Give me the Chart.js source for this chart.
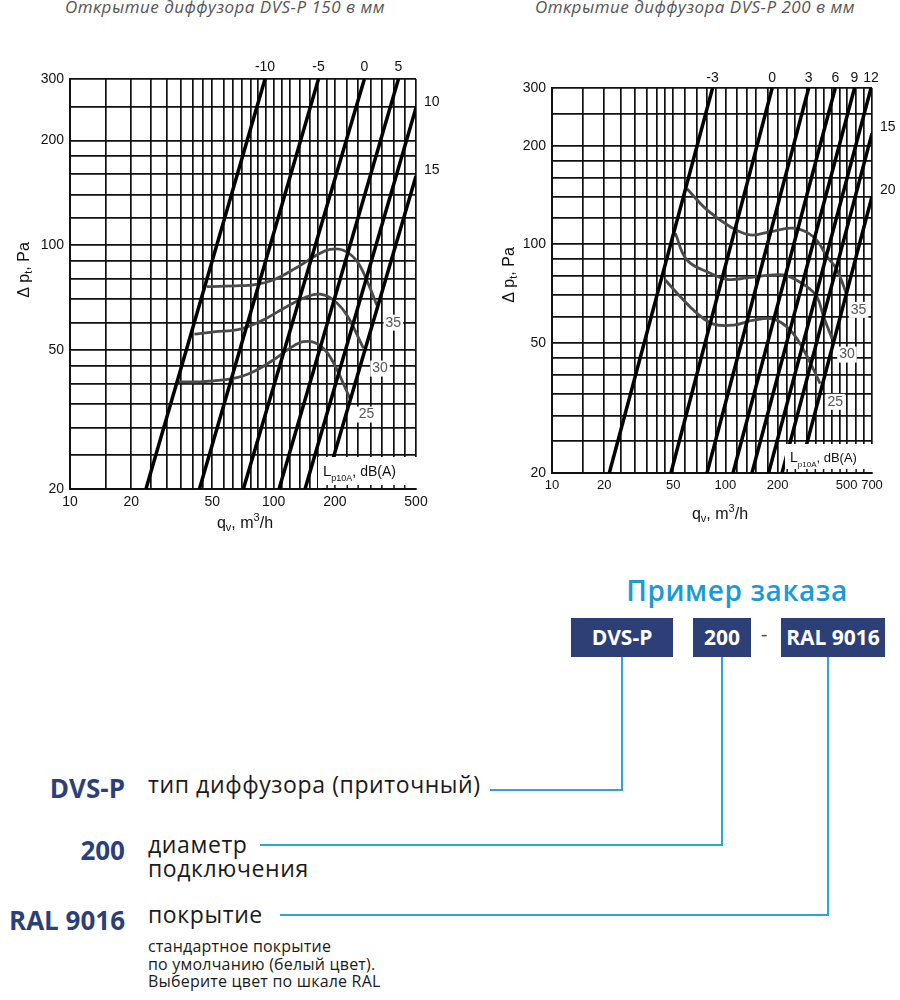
<!DOCTYPE html>
<html lang="ru">
<head>
<meta charset="utf-8">
<title>DVS-P</title>
<script src="https://cdn.jsdelivr.net/npm/chart.js@4.4.1/dist/chart.umd.min.js"></script>
<style>
    body { margin: 0; background: #fff; font-family: 'Open Sans', sans-serif; }
    #page { position: relative; width: 900px; height: 1000px; overflow: hidden; }
    .chart-title { position: absolute; top: -5px; text-align: center; font-style: italic; color: #555; font-size: 17px; letter-spacing: 0.5px; }
    .chart-box { position: absolute; top: 0; height: 560px; }
    .order-title { position: absolute; left: 590px; top: 571px; width: 294px; text-align: center; color: #1a9ad6; font-size: 28px; font-weight: 600; letter-spacing: 0.6px; }
    .code { position: absolute; top: 618px; height: 39px; line-height: 39px; background: #2c3f77; color: #fff; font-size: 21px; font-weight: 700; text-align: center; }
    .dash { position: absolute; left: 761px; top: 620px; color: #444; font-size: 20px; }
    .hline, .vline { position: absolute; background: #2ba5da; }
    .hline { height: 2px; }
    .vline { width: 2px; }
    .key { position: absolute; right: 775px; color: #2c3f77; font-size: 26px; font-weight: 700; text-align: right; white-space: nowrap; }
    .desc { position: absolute; left: 148px; color: #1a1a1a; font-size: 23px; line-height: 24px; letter-spacing: 0.6px; }
    .note { position: absolute; left: 148px; top: 938px; color: #1a1a1a; font-size: 16px; line-height: 17.5px; letter-spacing: 0.2px; }
</style>
</head>
<body>
<div id="page">
    <div class="chart-title" style="left:0; width:450px;">Открытие диффузора DVS-P 150 в мм</div>
    <div class="chart-title" style="left:480px; width:430px;">Открытие диффузора DVS-P 200 в мм</div>
    <div class="chart-box" style="left:0; width:450px;"><canvas id="chart150"></canvas></div>
    <div class="chart-box" style="left:480px; width:420px;"><canvas id="chart200"></canvas></div>

    <div class="order-title">Пример заказа</div>
    <div class="code" style="left:571px; width:102px;">DVS-P</div>
    <div class="code" style="left:693px; width:58px;">200</div>
    <div class="dash">-</div>
    <div class="code" style="left:781px; width:104px;">RAL 9016</div>

    <div class="vline" style="left:621px; top:657px; height:134px;"></div>
    <div class="hline" style="left:490px; top:789px; width:133px;"></div>
    <div class="vline" style="left:721px; top:657px; height:189px;"></div>
    <div class="hline" style="left:260px; top:844px; width:463px;"></div>
    <div class="vline" style="left:827px; top:657px; height:259px;"></div>
    <div class="hline" style="left:280px; top:914px; width:549px;"></div>

    <div class="key" style="top:770px;">DVS-P</div>
    <div class="key" style="top:832px;">200</div>
    <div class="key" style="top:902px;">RAL 9016</div>
    <div class="desc" style="top:772px;">тип диффузора (приточный)</div>
    <div class="desc" style="top:832px;">диаметр<br>подключения</div>
    <div class="desc" style="top:902px;">покрытие</div>
    <div class="note">стандартное покрытие<br>по умолчанию (белый цвет).<br>Выберите цвет по шкале RAL</div>
</div>

<script>
// Сетка по оси давления (общая для обоих графиков)
const yGrid = [20, 25, 30, 35, 40, 45, 50, 60, 70, 80, 90, 100, 120, 140, 160, 180, 200, 250, 300];
const yLabels = [20, 50, 100, 200, 300];

// Сетка по оси расхода
const xGrid150 = [10, 15, 20, 25, 30, 35, 40, 45, 50, 57, 63, 70, 77, 84, 92, 100, 110, 120, 135, 150, 165, 183, 200, 230, 260, 300, 340, 390, 440, 500];
const xLabels150 = [10, 20, 50, 100, 200, 500];
const xGrid200 = [10, 15, 20, 25, 30, 35, 40, 45, 50, 58, 68, 78, 88, 100, 116, 133, 150, 175, 200, 227, 253, 295, 330, 368, 411, 458, 500, 567, 628, 700];
const xLabels200 = [10, 20, 50, 100, 200, 500, 700];

// Открытие диффузора, мм: начало и конец каждой прямой [q, p]
const openings150 = ['-10', '-5', '0', '5', '10', '15'];
const openStart150 = [[23.6, 20], [43.2, 20], [71, 20], [106.3, 20], [142.6, 20], [177, 20]];
const openEnd150 = [[90.7, 300], [166, 300], [279, 300], [410, 300], [500, 248], [500, 158]];

const openings200 = ['-3', '0', '3', '6', '9', '12', '15', '20'];
const openStart200 = [[21.4, 20], [48.5, 20], [78.3, 20], [110.6, 20], [142.2, 20], [177.4, 20], [212, 20], [266, 20]];
const openEnd200 = [[84.3, 300], [186, 300], [302, 300], [430, 300], [555, 300], [691, 300], [700, 218], [700, 140]];

// Уровень шума Lp10A, dB(A)
const noiseLevels = ['25', '30', '35'];
const noiseQ150 = [
    [33.4, 43.5, 63.4, 79.5, 99.7, 120.4, 140, 162.8, 189.2, 237],
    [40.8, 50.6, 68.4, 89, 115.8, 145.4, 169, 196.5, 228.6, 276],
    [46.9, 68.4, 79.5, 99.3, 129.9, 162.8, 189.2, 220, 255.6, 286.4, 320.8]
];
const noiseP150 = [
    [40.6, 40.6, 41.5, 43.4, 46.9, 50.7, 52.9, 52.3, 47.9, 36.4],
    [55.6, 56.5, 57.5, 61.1, 66.7, 71.2, 72.4, 69.7, 63.1, 50.7],
    [76.1, 76.6, 77, 79.5, 86.4, 93.8, 97.4, 96.8, 90.3, 79.5, 67.4]
];
const noiseLabelAt150 = [[286, 32.7], [333, 44.3], [387, 60]];

const noiseQ200 = [
    [45, 55, 68.6, 85.5, 111.5, 145.4, 189.6, 236.6, 282.5, 352],
    [51.4, 60, 81.8, 102, 133.2, 181.6, 226.6, 295.5, 337, 368.4, 411.8],
    [60, 78.3, 106.6, 139.2, 181.6, 247, 322.6, 385.5, 440, 502]
];
const noiseP200 = [
    [77.7, 69.1, 61.5, 57, 56.6, 58.6, 59, 54.6, 47.5, 37.5],
    [108, 89.5, 81.5, 78.1, 78.9, 80.5, 80, 74.1, 69.1, 60, 51.5],
    [147.6, 127.3, 113.1, 106.7, 109.2, 111.9, 105.2, 91.6, 83.4, 69.9]
];
const noiseLabelAt200 = [[430, 33], [502, 46], [586, 63]];

const AXIS_FONT = 'Liberation Sans, Arial, sans-serif';

// Рисует текст из кусков с индексами: [[текст, размер, сдвиг по y]]
function richWidth(ctx, parts) {
    let w = 0;
    parts.forEach(([t, size]) => {
        ctx.font = size + 'px ' + AXIS_FONT;
        w += ctx.measureText(t).width;
    });
    return w;
}

function drawRich(ctx, parts, x, y) {
    let cx = x;
    parts.forEach(([t, size, dy]) => {
        ctx.font = size + 'px ' + AXIS_FONT;
        ctx.fillText(t, cx, y + dy);
        cx += ctx.measureText(t).width;
    });
}

const overlayPlugin = {
    id: 'overlay',
    afterDatasetsDraw(chart, args, opts) {
        const { ctx, chartArea: a, scales: { x, y } } = chart;
        ctx.save();
        ctx.textBaseline = 'alphabetic';

        // Табличка Lp10A
        const bx = a.right - opts.boxW, by = a.bottom - opts.boxH;
        ctx.fillStyle = '#fff';
        ctx.fillRect(bx, by, opts.boxW + 1, opts.boxH - 1);
        ctx.strokeStyle = '#111';
        ctx.lineWidth = 1.5;
        opts.grid.forEach(v => {
            const px = x.getPixelForValue(v);
            if (px > bx + 2 && px < a.right - 2) {
                ctx.beginPath();
                ctx.moveTo(px, a.bottom);
                ctx.lineTo(px, a.bottom - 4);
                ctx.stroke();
            }
        });
        ctx.fillStyle = '#111';
        const fs = opts.boxFont;
        drawRich(ctx, [['L', fs + 1, 0], ['p10A', Math.round(fs * 0.65), 5], [', dB(A)', fs, 0]], bx + 5, a.bottom - opts.boxH / 2 + 3);

        // Подписи кривых шума
        ctx.font = opts.noiseFont + 'px ' + AXIS_FONT;
        ctx.textAlign = 'center';
        ctx.textBaseline = 'middle';
        opts.noiseLabels.forEach(([q, p], i) => {
            const px = x.getPixelForValue(q), py = y.getPixelForValue(p);
            const w = ctx.measureText(opts.noiseNames[i]).width + 4;
            ctx.fillStyle = '#fff';
            ctx.fillRect(px - w / 2, py - 8, w, 16);
            ctx.fillStyle = '#555';
            ctx.fillText(opts.noiseNames[i], px, py);
        });

        // Подписи открытия: сверху или справа
        ctx.fillStyle = '#111';
        ctx.font = opts.openFont + 'px ' + AXIS_FONT;
        opts.openEnds.forEach(([q, p], i) => {
            if (p >= 299) {
                ctx.textAlign = 'center';
                ctx.fillText(opts.openNames[i], x.getPixelForValue(q), a.top - opts.topGap);
            } else {
                ctx.textAlign = 'left';
                ctx.fillText(opts.openNames[i], a.right + 8, y.getPixelForValue(p) - 6);
            }
        });

        // Названия осей
        ctx.textAlign = 'left';
        ctx.textBaseline = 'middle';
        const yt = [['\u0394 p', 16, 0], ['t', 11, 4], [', Pa', 16, 0]];
        ctx.translate(opts.yTitle[0], opts.yTitle[1]);
        ctx.rotate(-Math.PI / 2);
        drawRich(ctx, yt, -richWidth(ctx, yt) / 2, 0);
        ctx.setTransform(chart.currentDevicePixelRatio, 0, 0, chart.currentDevicePixelRatio, 0, 0);
        const xt = [['q', 16, 0], ['v', 11, 4], [', m', 16, 0], ['3', 11, -6], ['/h', 16, 0]];
        drawRich(ctx, xt, opts.xTitle[0] - richWidth(ctx, xt) / 2, opts.xTitle[1]);
        ctx.restore();
    }
};

function buildChart(canvasId, cfg) {
    const datasets = [];
    cfg.openStart.forEach((s, i) => {
        datasets.push({
            label: cfg.openNames[i],
            data: [{ x: s[0], y: s[1] }, { x: cfg.openEnd[i][0], y: cfg.openEnd[i][1] }],
            showLine: true,
            borderColor: '#000',
            borderWidth: 3.5,
            pointRadius: 0
        });
    });
    cfg.noiseQ.forEach((qs, i) => {
        datasets.push({
            label: noiseLevels[i] + ' dB(A)',
            data: qs.map((q, k) => ({ x: q, y: cfg.noiseP[i][k] })),
            showLine: true,
            borderColor: '#4a4a4a',
            borderWidth: 2.8,
            tension: 0.4,
            pointRadius: 0
        });
    });

    const gridStyle = { color: '#111', lineWidth: 1.7, drawTicks: false };
    const tickFont = { family: AXIS_FONT, size: 14 };

    return new Chart(document.getElementById(canvasId), {
        type: 'scatter',
        data: { datasets },
        plugins: [overlayPlugin],
        options: {
            responsive: true,
            maintainAspectRatio: false,
            animation: false,
            events: [],
            layout: { padding: cfg.padding },
            scales: {
                x: {
                    type: 'logarithmic',
                    min: 10,
                    max: cfg.xMax,
                    afterBuildTicks: s => { s.ticks = cfg.xGrid.map(v => ({ value: v })); },
                    afterFit: s => { s.height = 40; },
                    grid: gridStyle,
                    border: { color: '#111', width: 2 },
                    ticks: {
                        autoSkip: false, maxRotation: 0, padding: 5, color: '#111',
                        font: { family: AXIS_FONT, size: cfg.xTickSize },
                        callback: v => cfg.xLabels.includes(v) ? String(v) : ''
                    }
                },
                y: {
                    type: 'logarithmic',
                    min: 20,
                    max: 300,
                    afterBuildTicks: s => { s.ticks = yGrid.map(v => ({ value: v })); },
                    afterFit: s => { s.width = cfg.yWidth; },
                    grid: gridStyle,
                    border: { color: '#111', width: 2 },
                    ticks: {
                        autoSkip: false, padding: 6, color: '#111', font: tickFont,
                        callback: v => yLabels.includes(v) ? String(v) : ''
                    }
                }
            },
            plugins: {
                legend: { display: false },
                tooltip: { enabled: false },
                overlay: {
                    grid: cfg.xGrid,
                    boxW: cfg.boxW, boxH: cfg.boxH, boxFont: cfg.boxFont,
                    noiseLabels: cfg.noiseLabelAt, noiseNames: noiseLevels, noiseFont: 14,
                    openEnds: cfg.openEnd, openNames: cfg.openNames, openFont: 14, topGap: cfg.topGap,
                    yTitle: cfg.yTitle, xTitle: cfg.xTitle
                }
            }
        }
    });
}

buildChart('chart150', {
    xMax: 500, xGrid: xGrid150, xLabels: xLabels150, xTickSize: 14,
    openNames: openings150, openStart: openStart150, openEnd: openEnd150,
    noiseQ: noiseQ150, noiseP: noiseP150, noiseLabelAt: noiseLabelAt150,
    padding: { left: 0, right: 34, top: 79, bottom: 31 }, yWidth: 70,
    boxW: 98, boxH: 32, boxFont: 14, topGap: 12,
    yTitle: [25, 270], xTitle: [245, 524]
});

buildChart('chart200', {
    xMax: 700, xGrid: xGrid200, xLabels: xLabels200, xTickSize: 13,
    openNames: openings200, openStart: openStart200, openEnd: openEnd200,
    noiseQ: noiseQ200, noiseP: noiseP200, noiseLabelAt: noiseLabelAt200,
    padding: { left: 0, right: 28, top: 88, bottom: 47 }, yWidth: 72,
    boxW: 87, boxH: 29, boxFont: 13, topGap: 10,
    yTitle: [30, 275], xTitle: [240, 515]
});
</script>
</body>
</html>
